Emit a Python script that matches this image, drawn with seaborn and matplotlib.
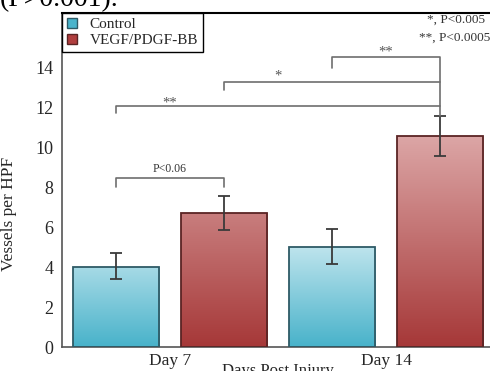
import numpy as np
import pandas as pd
import matplotlib
matplotlib.use("Agg")
import matplotlib.pyplot as plt
import seaborn as sns
from matplotlib.colors import LinearSegmentedColormap
from matplotlib.patches import Patch

# ---- data ----
days = ["Day 7", "Day 14"]
groups = ["Control", "VEGF/PDGF-BB"]
control_mean = [4.0, 5.0]
control_low = [3.4, 4.15]
control_high = [4.7, 5.9]
vegf_mean = [6.7, 10.55]
vegf_low = [5.85, 9.55]
vegf_high = [7.55, 11.55]
yticks = [0, 2, 4, 6, 8, 10, 12, 14]

df = pd.DataFrame({
    "day": days * 2,
    "group": [groups[0]] * 2 + [groups[1]] * 2,
    "value": control_mean + vegf_mean,
})

sns.set_style("white")
plt.rcParams["font.family"] = ["Liberation Serif", "DejaVu Serif"]

fig = plt.figure(figsize=(4.9, 3.71), dpi=100)
ax = fig.add_axes([62 / 490, 24 / 371, 432 / 490, 334 / 371])

face = {"Control": "#7cc8da", "VEGF/PDGF-BB": "#bb5a5a"}
edge = {"Control": "#2e5a66", "VEGF/PDGF-BB": "#5a2424"}
sns.barplot(data=df, x="day", y="value", hue="group", order=days,
            hue_order=groups, palette=face, width=1.0, gap=0.2,
            errorbar=None, ax=ax, legend=False)

cmaps = {
    "Control": (LinearSegmentedColormap.from_list("c", ["#48b2ca", "#c2e6ee"]), 5.2),
    "VEGF/PDGF-BB": (LinearSegmentedColormap.from_list("r", ["#a63838", "#dda8a8"]), 10.8),
}
lows = {"Control": control_low, "VEGF/PDGF-BB": vegf_low}
highs = {"Control": control_high, "VEGF/PDGF-BB": vegf_high}
means = {"Control": control_mean, "VEGF/PDGF-BB": vegf_mean}

centers = {}
for grp, cont in zip(groups, ax.containers):
    cmap, top = cmaps[grp]
    xs = []
    for i, p in enumerate(cont.patches):
        x0, w, h = p.get_x(), p.get_width(), p.get_height()
        grad = np.linspace(0, 1, 256).reshape(-1, 1)
        im = ax.imshow(grad * (h / top), extent=[x0, x0 + w, 0, h], origin="lower",
                       cmap=cmap, vmin=0, vmax=1, aspect="auto", zorder=2)
        im.set_clip_path(p)
        p.set_facecolor("none")
        p.set_edgecolor(edge[grp])
        p.set_linewidth(1.3)
        p.set_zorder(3)
        xs.append(x0 + w / 2)
    centers[grp] = xs
    m = np.array(means[grp])
    yerr = [m - np.array(lows[grp]), np.array(highs[grp]) - m]
    ax.errorbar(xs, m, yerr=yerr, fmt="none", ecolor="#3a3a3a", elinewidth=1.3,
                capsize=4.5, capthick=1.3, zorder=4)

ax.set_xlim(-0.5, 1.5)
ax.set_ylim(0, 16.7)

# brackets
bc = "#6e6e6e"
tc = "#555555"
c7, c14 = centers["Control"]
v7, v14 = centers["VEGF/PDGF-BB"]
# P<0.06
ax.plot([c7, c7, v7, v7], [8.0, 8.45, 8.45, 8.0], color=bc, lw=1.2, zorder=5)
ax.text((c7 + v7) / 2, 8.6, "P<0.06", ha="center", va="bottom", fontsize=8.5, color="#333333")
# long ** bracket
ax.plot([c7, c7, v14], [11.7, 12.05, 12.05], color=bc, lw=1.2, zorder=5)
ax.text(0.0, 12.2, "**", ha="center", va="center", fontsize=10.5, color=tc)
# * bracket
ax.plot([v7, v7, v14], [12.85, 13.25, 13.25], color=bc, lw=1.2, zorder=5)
ax.text(0.5, 13.55, "*", ha="center", va="center", fontsize=10.5, color=tc)
# upper ** bracket
ax.plot([c14, c14, v14, v14], [13.95, 14.5, 14.5, vegf_high[1]], color=bc, lw=1.2, zorder=5)
ax.text(1.0, 14.75, "**", ha="center", va="center", fontsize=10.5, color=tc)

# axes styling
ax.set_yticks(yticks)
ax.set_yticklabels([str(t) for t in yticks], fontsize=13)
ax.set_xticks([0, 1])
ax.set_xticklabels(days, fontsize=12.5)
ax.set_xticks([-0.5, 0.5, 1.5], minor=True)
ax.tick_params(axis="x", which="major", length=0, pad=4)
ax.tick_params(axis="x", which="minor", length=5, width=1, color="#555555", direction="out")
ax.tick_params(axis="y", which="major", length=5, width=1, color="#555555", direction="out", pad=1)
ax.set_xlabel("Days Post Injury", fontsize=12, labelpad=-4)
ax.set_ylabel("Vessels per HPF", fontsize=12.5)
ax.yaxis.set_label_coords(-0.104, 0.40)
for s in ["left", "bottom"]:
    ax.spines[s].set_color("#555555")
    ax.spines[s].set_linewidth(1.2)
ax.spines["top"].set_color("black")
ax.spines["top"].set_linewidth(1.5)
ax.spines["right"].set_visible(False)

handles = [Patch(facecolor="#4ab4cc", edgecolor=edge["Control"], label="Control"),
           Patch(facecolor="#b03e3e", edgecolor=edge["VEGF/PDGF-BB"], label="VEGF/PDGF-BB")]
leg = ax.legend(handles=handles, loc="upper left", bbox_to_anchor=(0, 1),
                borderaxespad=0, fancybox=False, edgecolor="black", framealpha=1,
                handlelength=0.7, handleheight=0.7, handletextpad=0.8,
                fontsize=11, borderpad=0.3, labelspacing=0.15)
leg.get_frame().set_linewidth(1.0)

fig.text(427 / 490, 1 - 20 / 371, "*, P<0.005", fontsize=9.5, va="center", ha="left", color="#333333")
fig.text(419 / 490, 1 - 38 / 371, "**, P<0.0005", fontsize=9.5, va="center", ha="left", color="#333333")
fig.text(0.0, 1 - 6 / 371, "(P>0.001).", fontsize=20, va="baseline", ha="left", color="black")

fig.savefig("out.png", dpi=100)
